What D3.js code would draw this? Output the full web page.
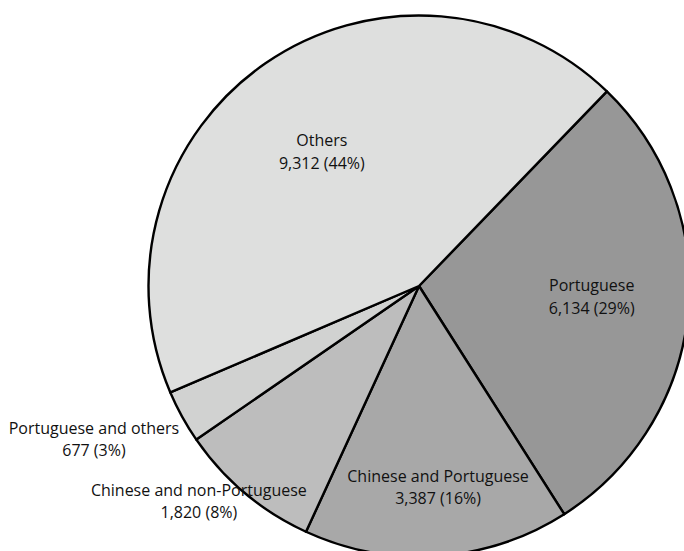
<!DOCTYPE html>
<html>
<head>
<meta charset="utf-8">
<script src="https://cdn.jsdelivr.net/npm/d3@7"></script>
<style>
  html, body { margin: 0; padding: 0; background: #ffffff; }
  svg { display: block; }
  text { font-family: "Open Sans", "Lato", sans-serif; font-size: 16px; fill: #111; }
</style>
</head>
<body>
<svg id="chart" width="684" height="551"></svg>
<script>
// Household language groups, clockwise from the first slice
const categories = ["Portuguese", "Chinese and Portuguese", "Chinese and non-Portuguese", "Portuguese and others", "Others"];
const values = [6134, 3387, 1820, 677, 9312];
const percentLabels = ["29%", "16%", "8%", "3%", "44%"];

// Slice fills
const fills = ["#979797", "#a8a8a8", "#bdbdbd", "#d1d2d1", "#dedfde"];
// Label placement: radius as a fraction of the pie radius, plus an angular nudge (degrees)
const labelRadius = [0.64, 0.75, 1.14, 1.33, 0.61];
const labelNudge = [-2, -1.5, 5.5, 3.5, -1.5];

const width = 684, height = 551;
const cx = 419, cy = 286, radius = 270.5;
const startDeg = 44;

const svg = d3.select("#chart");
const g = svg.append("g").attr("transform", `translate(${cx},${cy})`);

const pie = d3.pie()
  .sort(null)
  .value(d => d)
  .startAngle(startDeg * Math.PI / 180)
  .endAngle((startDeg + 360) * Math.PI / 180);

const arcs = pie(values);
const arc = d3.arc().innerRadius(0).outerRadius(radius);

g.selectAll("path.slice")
  .data(arcs)
  .join("path")
  .attr("class", "slice")
  .attr("d", arc)
  .attr("fill", (d, i) => fills[i])
  .attr("stroke", "#000")
  .attr("stroke-width", 2.4)
  .attr("stroke-linejoin", "round");

const fmt = d3.format(",");
const lineGap = 22.5;

const labels = g.selectAll("text.lbl")
  .data(arcs)
  .join("text")
  .attr("class", "lbl")
  .attr("text-anchor", "middle")
  .attr("transform", (d, i) => {
    const a = (d.startAngle + d.endAngle) / 2 + labelNudge[i] * Math.PI / 180;
    const r = radius * labelRadius[i];
    return `translate(${r * Math.sin(a)},${-r * Math.cos(a)})`;
  });

labels.append("tspan")
  .attr("x", 0)
  .attr("y", -lineGap / 2 + 5)
  .text((d, i) => categories[i]);

labels.append("tspan")
  .attr("x", 0)
  .attr("y", lineGap / 2 + 5)
  .text((d, i) => `${fmt(d.data)} (${percentLabels[i]})`);
</script>
</body>
</html>
